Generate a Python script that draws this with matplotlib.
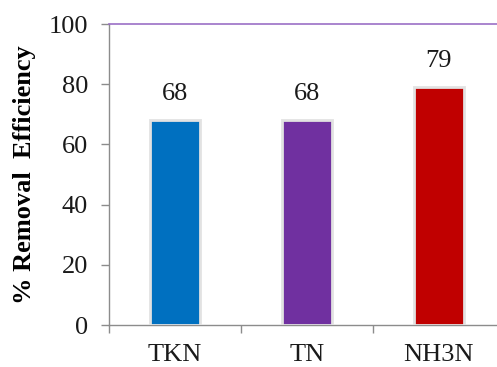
import matplotlib
matplotlib.use("Agg")
import matplotlib.pyplot as plt

# data
categories = ["TKN", "TN", "NH3N"]
removal = [68, 68, 79]
bar_colors = ["#0070C0", "#7030A0", "#C00000"]
yticks = [0, 20, 40, 60, 80, 100]

plt.rcParams["font.family"] = ["Liberation Serif", "DejaVu Serif"]

fig = plt.figure(figsize=(4.97, 3.67), dpi=100)
ax = fig.add_axes([0.2193, 0.1144, 0.7807, 0.8202])

x = range(len(categories))
bars = ax.bar(x, removal, width=0.38, color=bar_colors,
              edgecolor="#e2e2e2", linewidth=2.0, zorder=3)

for xi, v in zip(x, removal):
    ax.annotate(str(v), (xi, v), xytext=(0, 11), textcoords="offset points",
                ha="center", va="bottom", fontsize=19, color="#1a1a1a")

ax.set_ylim(0, 100)
ax.set_xlim(-0.5, 2.44)
ax.set_yticks(yticks)
ax.set_yticklabels([str(t) for t in yticks], fontsize=19, color="#1a1a1a")
ax.set_xticks(list(x))
ax.set_xticklabels(categories, fontsize=19, color="#1a1a1a")
ax.set_xticks([-0.5, 0.5, 1.5], minor=True)

ax.tick_params(axis="y", length=6, width=1, color="#8c8c8c", pad=9)
ax.tick_params(axis="x", which="major", length=0, pad=14)
ax.tick_params(axis="x", which="minor", length=6, width=1, color="#8c8c8c")

ax.set_ylabel("% Removal  Efficiency", fontsize=19, fontweight="bold")
ax.yaxis.set_label_coords(-0.188, 0.5)

for side in ["left", "bottom"]:
    ax.spines[side].set_color("#8c8c8c")
    ax.spines[side].set_linewidth(1)
ax.spines["top"].set_color("#9b6fc6")
ax.spines["top"].set_linewidth(1.2)
ax.spines["right"].set_visible(False)

fig.savefig("out.png", dpi=100)
